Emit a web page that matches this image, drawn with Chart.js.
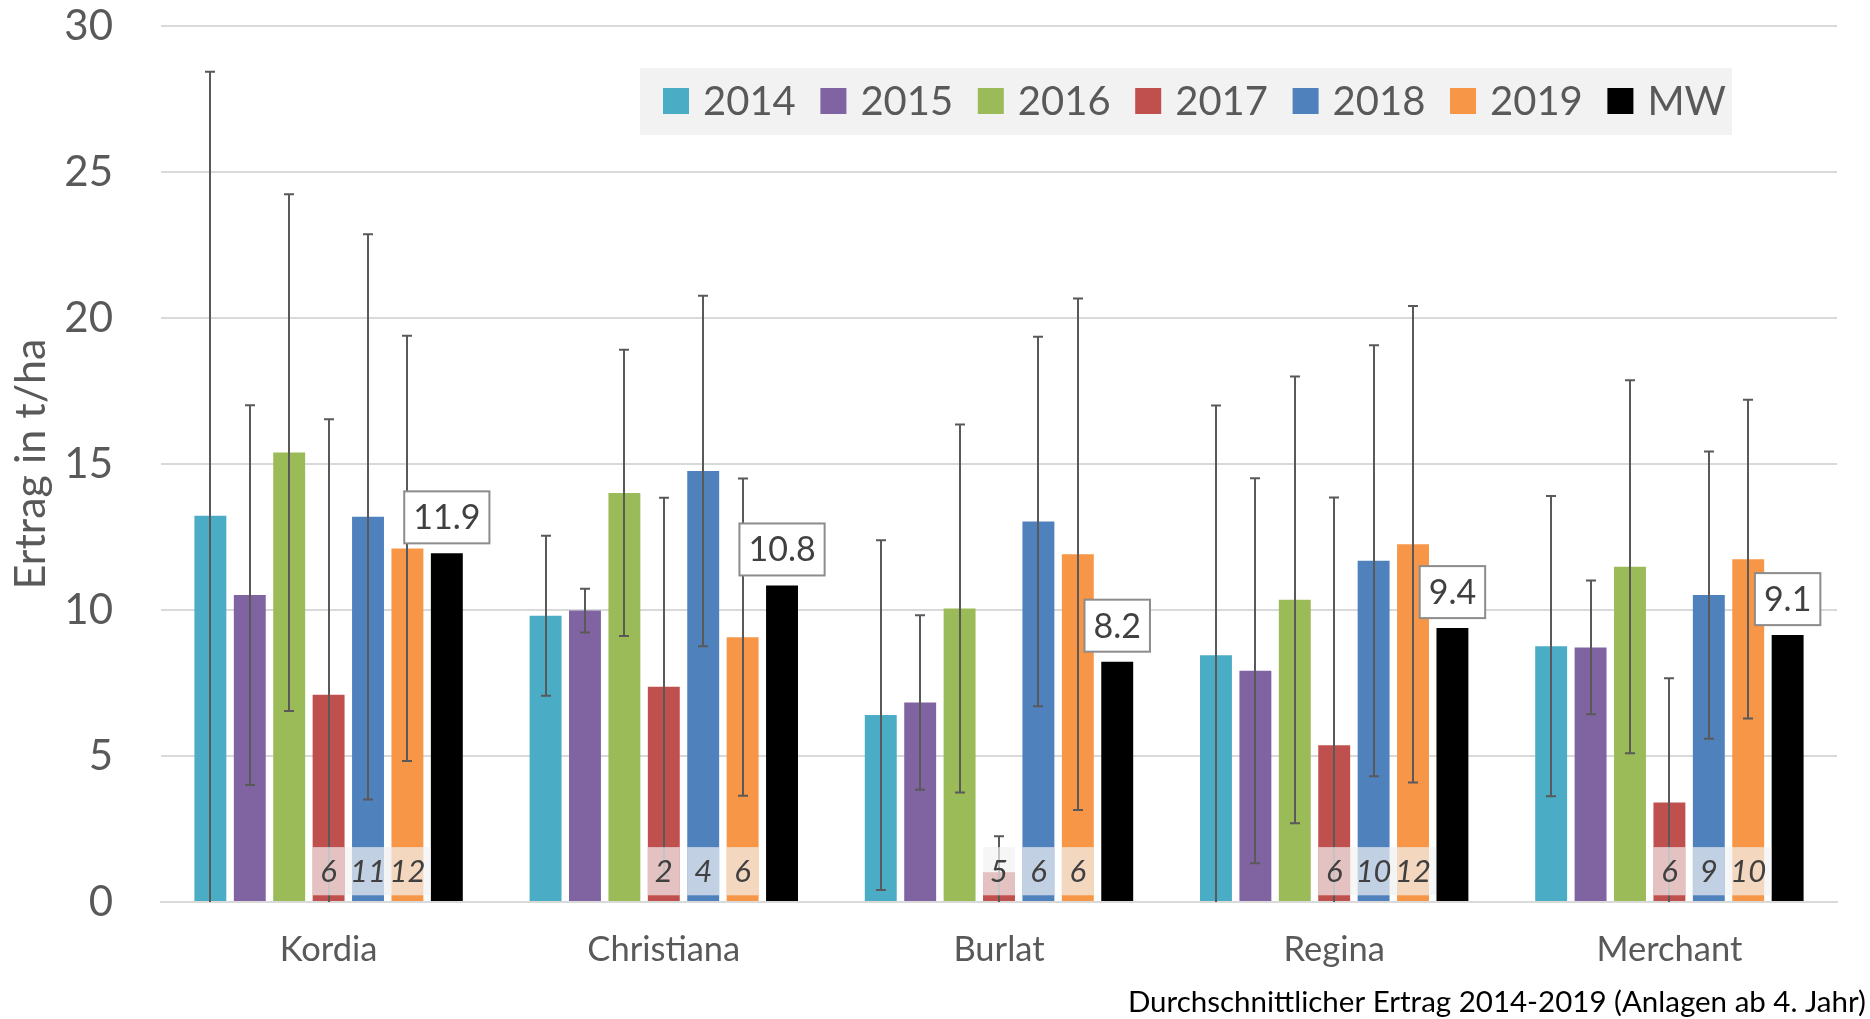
<!DOCTYPE html>
<html>
<head>
<meta charset="utf-8">
<script src="https://cdn.jsdelivr.net/npm/chart.js@4.4.1/dist/chart.umd.min.js"></script>
<style>
  html, body { margin: 0; padding: 0; background: #fff; }
</style>
</head>
<body>
<canvas id="ertrag" width="1870" height="1019"></canvas>
<script>
// Sorten und Jahre
const SORTEN = ["Kordia", "Christiana", "Burlat", "Regina", "Merchant"];
const JAHRE = ["2014", "2015", "2016", "2017", "2018", "2019", "MW"];

// Ertrag in t/ha
const E2014 = [13.23, 9.80, 6.40, 8.45, 8.76];
const E2015 = [10.51, 9.98, 6.83, 7.92, 8.72];
const E2016 = [15.39, 14.01, 10.05, 10.35, 11.48];
const E2017 = [7.10, 7.37, 1.02, 5.37, 3.41];
const E2018 = [13.19, 14.76, 13.03, 11.69, 10.51];
const E2019 = [12.11, 9.07, 11.91, 12.25, 11.74];
const MW = [11.94, 10.84, 8.23, 9.38, 9.14];

// Standardabweichung (Fehlerbalken)
const SD2014 = [15.2, 2.74, 5.99, 8.55, 5.14];
const SD2015 = [6.5, 0.75, 2.99, 6.59, 2.29];
const SD2016 = [8.85, 4.9, 6.3, 7.65, 6.39];
const SD2017 = [9.43, 6.47, 1.23, 8.48, 4.25];
const SD2018 = [9.68, 6.0, 6.33, 7.38, 4.92];
const SD2019 = [7.28, 5.43, 8.76, 8.16, 5.46];

// Anzahl Anlagen
const N2017 = [6, 2, 5, 6, 6];
const N2018 = [11, 4, 6, 10, 9];
const N2019 = [12, 6, 6, 12, 10];

const Y_TICKS = [0, 5, 10, 15, 20, 25, 30];
const FUSSZEILE = "Durchschnittlicher Ertrag 2014-2019 (Anlagen ab 4. Jahr)";

const FARBEN = ["#4BACC6", "#8064A2", "#9BBB59", "#C0504D", "#4F81BD", "#F79646", "#000000"];
const FONT = "Lato, 'Open Sans', sans-serif";
const GRAU = "#595959";

const WERTE = [E2014, E2015, E2016, E2017, E2018, E2019, MW];
const FEHLER = [SD2014, SD2015, SD2016, SD2017, SD2018, SD2019, null];
const ANZAHL = [null, null, null, N2017, N2018, N2019, null];

const datasets = JAHRE.map((j, i) => ({
  label: j,
  data: WERTE[i],
  err: FEHLER[i],
  n: ANZAHL[i],
  mw: j == "MW",
  backgroundColor: FARBEN[i],
  borderWidth: 0,
  categoryPercentage: 0.823,
  barPercentage: 0.81,
}));

// Fehlerbalken, Anzahl-Boxen, MW-Beschriftung
const beschriftung = {
  id: "beschriftung",
  afterDatasetsDraw(chart) {
    const ctx = chart.ctx;
    const y = chart.scales.y;
    ctx.save();

    // Fehlerbalken
    ctx.strokeStyle = GRAU;
    ctx.lineWidth = 2;
    chart.data.datasets.forEach((ds, i) => {
      if (!ds.err) return;
      chart.getDatasetMeta(i).data.forEach((bar, k) => {
        const v = ds.data[k], e = ds.err[k];
        const x = Math.round(bar.x);
        const yo = y.getPixelForValue(v + e);
        const lo = v - e;
        const yu = y.getPixelForValue(Math.max(0, lo));
        ctx.beginPath();
        ctx.moveTo(x, yo);
        ctx.lineTo(x, yu);
        ctx.moveTo(x - 5, yo);
        ctx.lineTo(x + 5, yo);
        if (lo > 0) {
          ctx.moveTo(x - 5, yu);
          ctx.lineTo(x + 5, yu);
        }
        ctx.stroke();
      });
    });

    // Anzahl
    ctx.font = "italic 31px " + FONT;
    ctx.textAlign = "center";
    ctx.textBaseline = "middle";
    chart.data.datasets.forEach((ds, i) => {
      if (!ds.n) return;
      chart.getDatasetMeta(i).data.forEach((bar, k) => {
        const t = String(ds.n[k]);
        const w = Math.max(bar.width, ctx.measureText(t).width + 10);
        const yt = y.getPixelForValue(1.88), yb = y.getPixelForValue(0.23);
        ctx.fillStyle = "rgba(242,242,242,0.7)";
        ctx.fillRect(bar.x - w / 2, yt, w, yb - yt);
        ctx.fillStyle = "#404040";
        ctx.fillText(t, bar.x, (yt + yb) / 2 + 1);
      });
    });

    // MW-Werte
    ctx.font = "34px " + FONT;
    chart.data.datasets.forEach((ds, i) => {
      if (!ds.mw) return;
      chart.getDatasetMeta(i).data.forEach((bar, k) => {
        const t = ds.data[k].toFixed(1);
        const w = ctx.measureText(t).width + 18, h = 52;
        const yb = bar.y - 10;
        ctx.fillStyle = "#ffffff";
        ctx.fillRect(bar.x - w / 2, yb - h, w, h);
        ctx.strokeStyle = "#8C8C8C";
        ctx.lineWidth = 2;
        ctx.strokeRect(bar.x - w / 2, yb - h, w, h);
        ctx.fillStyle = "#404040";
        ctx.fillText(t, bar.x, yb - h / 2 + 1);
      });
    });
    ctx.restore();
  },
  afterDraw(chart) {
    const ctx = chart.ctx;
    ctx.save();
    // Legende
    ctx.fillStyle = "#F2F2F2";
    ctx.fillRect(640, 68, 1092, 67);
    ctx.font = "40px " + FONT;
    ctx.textBaseline = "middle";
    ctx.textAlign = "left";
    chart.data.datasets.forEach((ds, i) => {
      const x = 663 + i * 157.4;
      ctx.fillStyle = ds.backgroundColor;
      ctx.fillRect(x, 88, 26, 26);
      ctx.fillStyle = GRAU;
      ctx.fillText(ds.label, x + 40, 102);
    });
    // Fusszeile
    ctx.font = "29.5px " + FONT;
    ctx.fillStyle = "#000000";
    ctx.textAlign = "right";
    ctx.fillText(FUSSZEILE, 1866, 1002);
    ctx.restore();
  },
};

new Chart(document.getElementById("ertrag"), {
  type: "bar",
  data: { labels: SORTEN, datasets: datasets },
  options: {
    responsive: false,
    animation: false,
    layout: { padding: { top: 26, right: 33, left: 0, bottom: 0 } },
    plugins: {
      legend: { display: false },
      tooltip: { enabled: false },
    },
    scales: {
      x: {
        grid: { display: false, drawTicks: false },
        border: { color: "#D9D9D9", width: 2 },
        ticks: { color: GRAU, font: { family: FONT, size: 34.5 }, padding: 27 },
        afterFit: (s) => { s.height = 117; s.paddingLeft = 0; s.paddingRight = 0; },
      },
      y: {
        min: 0,
        max: 30,
        afterBuildTicks: (s) => { s.ticks = Y_TICKS.map((v) => ({ value: v })); },
        grid: { color: "#D9D9D9", lineWidth: 2, drawTicks: false },
        border: { display: false },
        ticks: { color: GRAU, font: { family: FONT, size: 42 }, padding: 48 },
        title: {
          display: true,
          text: "Ertrag in t/ha",
          color: GRAU,
          font: { family: FONT, size: 43 },
          padding: { top: 5, bottom: 0 },
        },
        afterFit: (s) => { s.width = 161; s.paddingTop = 0; s.paddingBottom = 0; },
      },
    },
  },
  plugins: [beschriftung],
});
</script>
</body>
</html>
